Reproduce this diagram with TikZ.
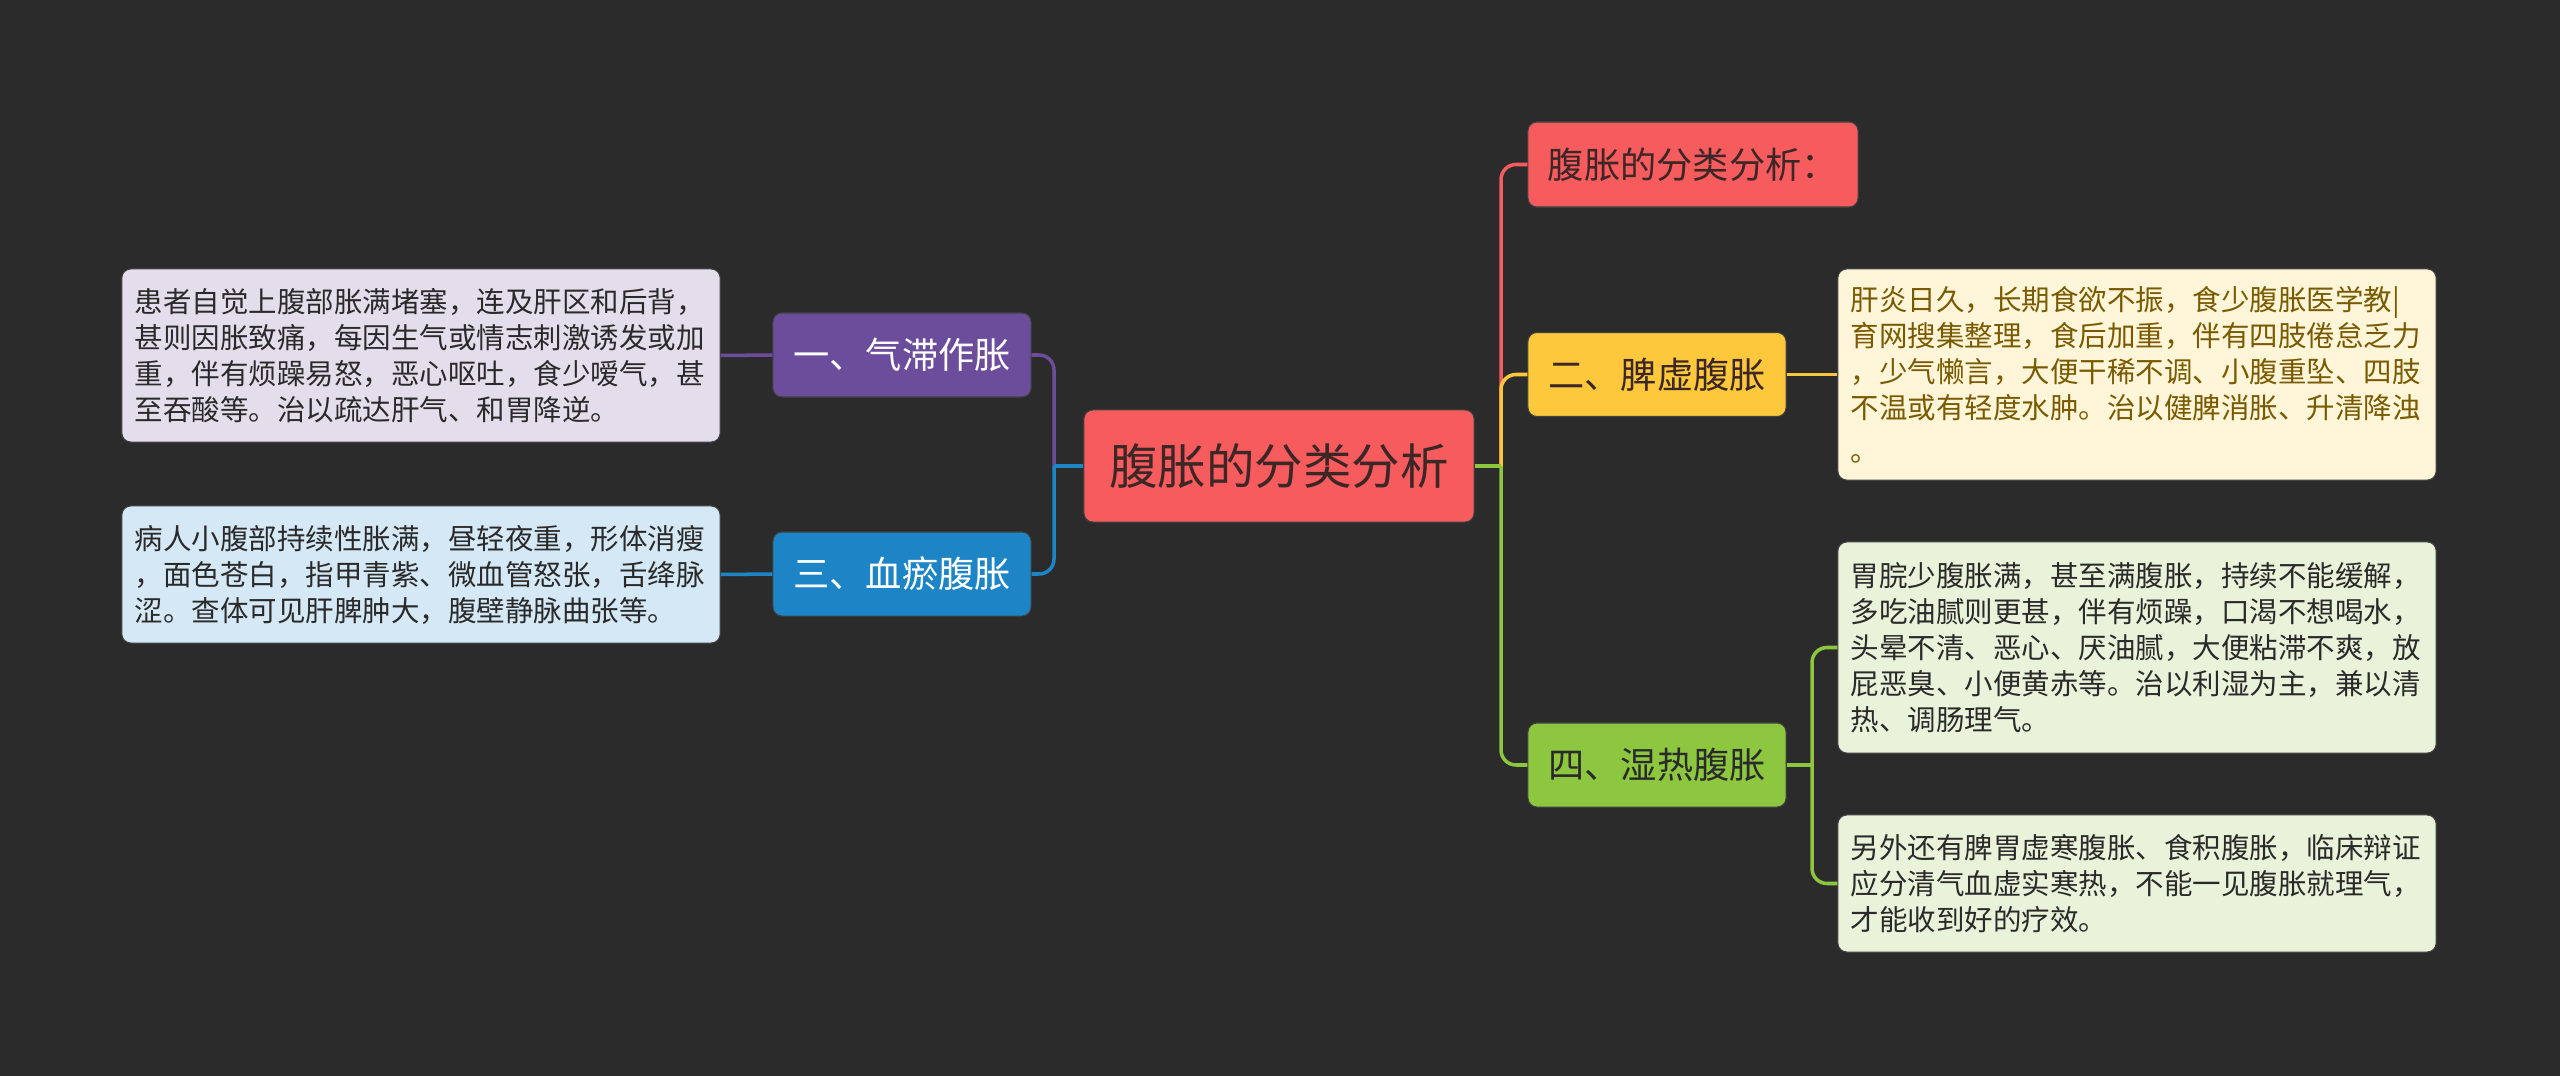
\documentclass[tikz,border=0pt]{standalone}
\usepackage{fontspec}
\setmainfont{Noto Sans CJK SC}
\usetikzlibrary{positioning}
\definecolor{bgdark}{HTML}{2B2B2B}
\definecolor{rootred}{HTML}{F65B5D}
\definecolor{rootink}{HTML}{3C2626}
\definecolor{spleen}{HTML}{FDC83C}
\definecolor{damp}{HTML}{8DC63F}
\definecolor{qi}{HTML}{6C4D9B}
\definecolor{blood}{HTML}{1D84C6}
\definecolor{qinote}{HTML}{E4DEEC}
\definecolor{bloodnote}{HTML}{D4E8F5}
\definecolor{spleennote}{HTML}{FFF6D9}
\definecolor{dampnote}{HTML}{E9F3DA}
\definecolor{spleenink}{HTML}{7A5A00}
\definecolor{darkink}{HTML}{2A2A2A}

\begin{document}
\begin{tikzpicture}[x=0.01cm,y=-0.01cm,
    box/.style={rounded corners=0.09cm, inner sep=0pt, align=left, draw=black!75, line width=0.3pt},
    root/.style={box, fill=rootred, text=rootink, minimum width=3.9cm, minimum height=1.12cm,
      font=\fontsize{13.8pt}{16pt}\selectfont},
    topic/.style={box, minimum width=2.58cm, minimum height=0.84cm,
      font=\fontsize{10.3pt}{12pt}\selectfont},
    note/.style={box, text width=5.72cm, inner xsep=0.13cm, text=darkink,
      font=\fontsize{8.1pt}{10.24pt}\selectfont},
    link/.style={line width=1pt, rounded corners=0.15cm}]
    \fill[bgdark] (0,0) rectangle (2560,1076);
    \useasboundingbox (0,0) rectangle (2560,1076);

    % centre and main branches
    \node[root] (root) at (1279,466) {腹胀的分类分析};
    \node[topic, fill=rootred, text=rootink, text width=2.9cm, inner xsep=0.2cm, minimum height=0.85cm] (intro) at (1693,164.5) {腹胀的分类分析：};
    \node[topic, fill=spleen, text=rootink] (spleen) at (1657,374.5) {二、脾虚腹胀};
    \node[topic, fill=damp, text=darkink] (damp) at (1657,765) {四、湿热腹胀};
    \node[topic, fill=qi, text=white] (qi) at (902,355) {一、气滞作胀};
    \node[topic, fill=blood, text=white] (blood) at (902,574) {三、血瘀腹胀};

    % notes
    \node[note, fill=spleennote, text=spleenink, minimum height=2.11cm] (spleennote) at (2137,374.5)
      {肝炎日久，长期食欲不振，食少腹胀医学教|\\育网搜集整理，食后加重，伴有四肢倦怠乏力\\，少气懒言，大便干稀不调、小腹重坠、四肢\\不温或有轻度水肿。治以健脾消胀、升清降浊\\[2pt]。};
    \node[note, fill=dampnote, minimum height=2.11cm] (dampa) at (2137,647.5)
      {胃脘少腹胀满，甚至满腹胀，持续不能缓解，\\多吃油腻则更甚，伴有烦躁，口渴不想喝水，\\头晕不清、恶心、厌油腻，大便粘滞不爽，放\\屁恶臭、小便黄赤等。治以利湿为主，兼以清\\热、调肠理气。};
    \node[note, fill=dampnote, minimum height=1.37cm] (dampb) at (2137,883.5)
      {另外还有脾胃虚寒腹胀、食积腹胀，临床辩证\\应分清气血虚实寒热，不能一见腹胀就理气，\\才能收到好的疗效。};
    \node[note, fill=qinote, minimum height=1.73cm] (qinote) at (421,355.5)
      {患者自觉上腹部胀满堵塞，连及肝区和后背，\\甚则因胀致痛，每因生气或情志刺激诱发或加\\重，伴有烦躁易怒，恶心呕吐，食少嗳气，甚\\至吞酸等。治以疏达肝气、和胃降逆。};
    \node[note, fill=bloodnote, minimum height=1.37cm] (bloodnote) at (421,574.5)
      {病人小腹部持续性胀满，昼轻夜重，形体消瘦\\，面色苍白，指甲青紫、微血管怒张，舌绛脉\\涩。查体可见肝脾肿大，腹壁静脉曲张等。};

    % connectors
    \coordinate (rj) at (1501,466);
    \coordinate (lj) at (1054,466);
    \coordinate (dj) at (1812,765);
    \draw[link, rootred] (rj) |- (intro.west);
    \draw[link, spleen] (rj) |- (spleen.west);
    \draw[link, damp] (rj) |- (damp.west);
    \draw[link, damp] (root.east) -- (rj);
    \draw[link, qi] (lj) |- (qi.east);
    \draw[link, blood] (lj) |- (blood.east);
    \draw[link, blood] (root.west) -- (lj);
    \draw[link, spleen] (spleen.east) -- (spleennote.west);
    \draw[link, damp] (damp.east) -- (dj);
    \draw[link, damp] (dj) |- (dampa.west);
    \draw[link, damp] (dj) |- (dampb.west);
    \draw[link, qi] (qi.west) -- (qinote.east);
    \draw[link, blood] (blood.west) -- (bloodnote.east);
  \end{tikzpicture}
\end{document}
